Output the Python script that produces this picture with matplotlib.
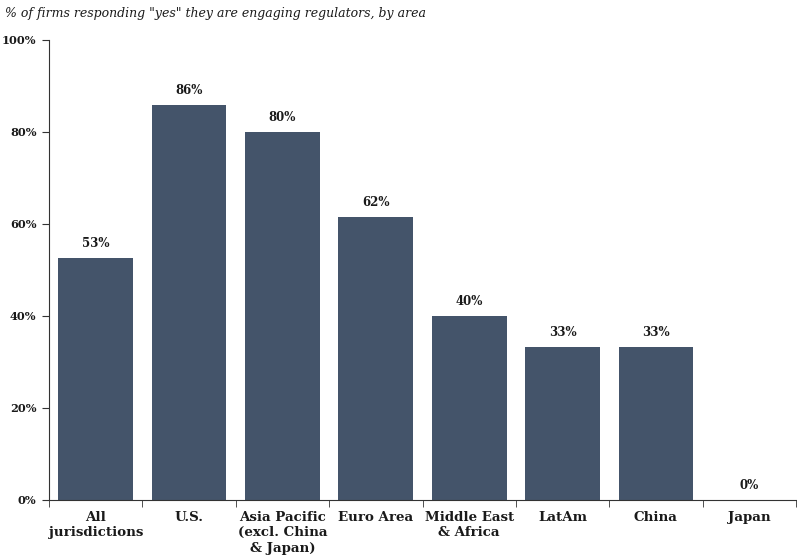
import matplotlib
matplotlib.use("Agg")
import matplotlib.pyplot as plt
import numpy as np

# data
categories = ["All\njurisdictions", "U.S.", "Asia Pacific\n(excl. China\n& Japan)", "Euro Area",
              "Middle East\n& Africa", "LatAm", "China", "Japan"]
values = [52.6, 85.8, 80.0, 61.5, 40.0, 33.3, 33.3, 0.0]
value_labels = ["53%", "86%", "80%", "62%", "40%", "33%", "33%", "0%"]
y_ticks = [0, 20, 40, 60, 80, 100]
y_tick_labels = ["0%", "20%", "40%", "60%", "80%", "100%"]
title = '% of firms responding "yes" they are engaging regulators, by area'

plt.rcParams['font.family'] = ['DejaVu Serif']

fig = plt.figure(figsize=(7.97, 5.57), dpi=100)
ax = fig.add_axes([49/797, 57/557, 747/797, 460/557])

x = np.arange(len(categories))
ax.bar(x, values, width=0.8, color="#44546A")

for xi, v, lab in zip(x, values, value_labels):
    ax.text(xi, v + 1.8, lab, ha="center", va="bottom", fontsize=8.5, fontweight="bold", color="#1a1a1a")

ax.set_xlim(-0.5, len(categories) - 0.5)
ax.set_ylim(0, 100)
ax.set_yticks(y_ticks)
ax.set_yticklabels(y_tick_labels, fontsize=8.2, fontweight="bold", color="#1a1a1a")
ax.set_xticks(x)
ax.set_xticklabels(categories, fontsize=9.6, fontweight="bold", color="#1a1a1a", linespacing=1.22)
ax.tick_params(axis="x", length=0, pad=8)
ax.set_xticks(np.arange(len(categories) + 1) - 0.5, minor=True)
ax.tick_params(axis="x", which="minor", length=5, direction="out", color="#333333")
ax.tick_params(axis="y", length=5, direction="out", color="#333333", pad=4)

for s in ["top", "right"]:
    ax.spines[s].set_visible(False)
ax.spines["left"].set_color("#333333")
ax.spines["bottom"].set_color("#333333")

fig.text(5/797, 1 - 13/557, title, ha="left", va="center", fontsize=9, style="italic", color="#1a1a1a")

fig.savefig("out.png", dpi=100)
